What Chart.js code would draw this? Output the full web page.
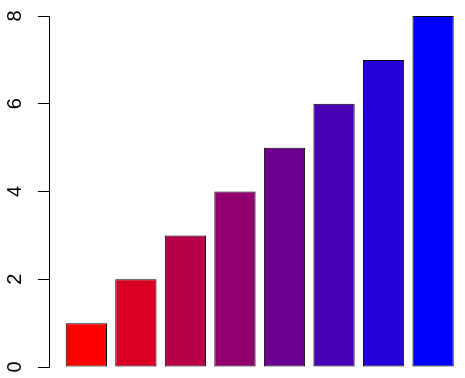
<!DOCTYPE html>
<html lang="en">
<head>
    <meta charset="UTF-8">
    <title>Bar plot</title>
    <style>
        body {
            margin: 0;
            background: #ffffff;
        }
        #chart {
            display: block;
        }
    </style>
</head>
<body>
    <canvas id="chart" width="465" height="378"></canvas>

    <script src="https://cdn.jsdelivr.net/npm/chart.js"></script>
    <script>
        // data
        const categories = ['1', '2', '3', '4', '5', '6', '7', '8'];
        const values = [1, 2, 3, 4, 5, 6, 7, 8];
        // colorRampPalette(c('red', 'blue'))(8)
        const barColors = ['#FF0000', '#DA0024', '#B60048', '#91006D', '#6D0091', '#4800B6', '#2400DA', '#0000FF'];
        const yTicks = [0, 2, 4, 6, 8];

        // barplot geometry: bar width 1, gap 0.2 in front of each bar
        const barWidth = 1;
        const space = 0.2;
        const points = values.map((v, i) => ({
            x: space + barWidth / 2 + i * (barWidth + space),
            y: v
        }));

        const ctx = document.getElementById('chart').getContext('2d');
        new Chart(ctx, {
            type: 'bar',
            data: {
                labels: categories,
                datasets: [{
                    data: points,
                    backgroundColor: barColors,
                    borderColor: '#000000',
                    borderWidth: 1,
                    borderSkipped: false,
                    barPercentage: barWidth / (barWidth + space),
                    categoryPercentage: 1
                }]
            },
            options: {
                responsive: false,
                animation: false,
                layout: {
                    padding: { top: 16, bottom: 11, left: 0, right: 0 }
                },
                plugins: {
                    legend: { display: false },
                    tooltip: { enabled: false }
                },
                scales: {
                    x: {
                        type: 'linear',
                        display: false,
                        min: -0.205,
                        max: 9.873,
                        afterBuildTicks: s => { s.ticks = []; }
                    },
                    y: {
                        min: yTicks[0],
                        max: yTicks[yTicks.length - 1],
                        afterBuildTicks: s => { s.ticks = yTicks.map(v => ({ value: v })); },
                        afterFit: s => {
                            s.width = 49;
                            s.paddingTop = 0;
                            s.paddingBottom = 0;
                        },
                        border: { display: true, color: '#000000', width: 1 },
                        grid: {
                            drawOnChartArea: false,
                            drawTicks: true,
                            tickLength: 11,
                            color: '#000000'
                        },
                        ticks: {
                            minRotation: 90,
                            maxRotation: 90,
                            crossAlign: 'center',
                            padding: 17,
                            color: '#000000',
                            font: { family: 'Liberation Sans', size: 20 }
                        }
                    }
                }
            }
        });
    </script>
</body>
</html>
